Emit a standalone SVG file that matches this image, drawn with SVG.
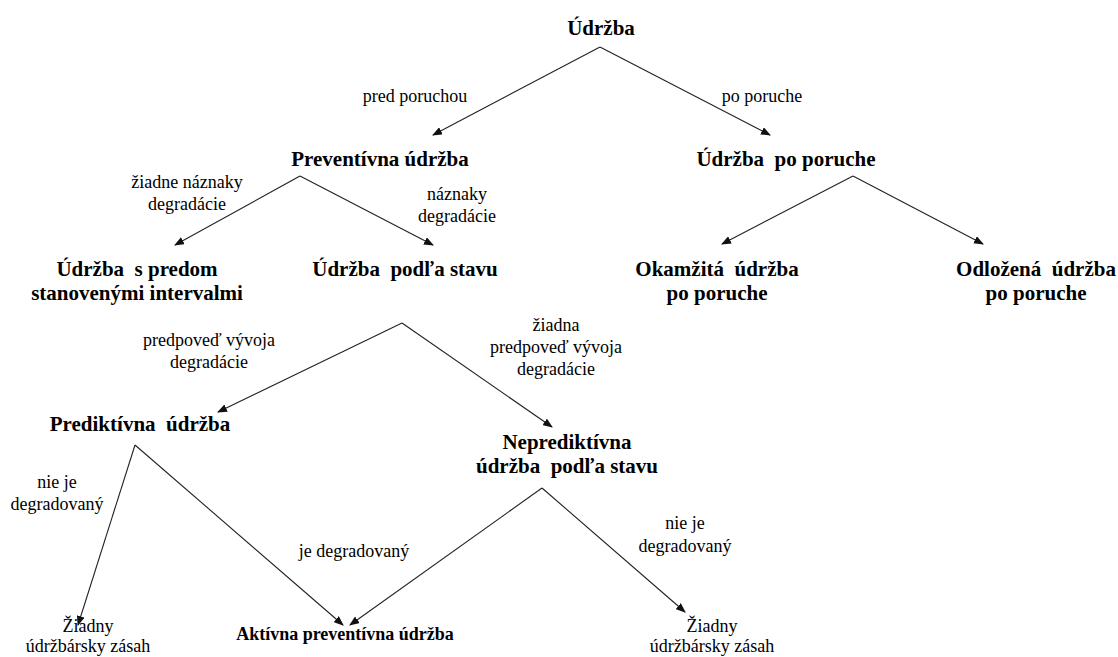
<svg xmlns="http://www.w3.org/2000/svg" width="1118" height="657" viewBox="0 0 1118 657">
<defs>
<marker id="ah" markerWidth="10" markerHeight="8" refX="9" refY="4" orient="auto" markerUnits="userSpaceOnUse">
<path d="M0,0 L10,4 L0,8 z" fill="#111"/>
</marker>
<style>
.n{font-family:"Liberation Serif","Times New Roman",serif;font-weight:bold;font-size:21px;fill:#000;text-anchor:middle}
.l{font-family:"Liberation Serif","Times New Roman",serif;font-size:18px;fill:#000;text-anchor:middle}
.c{stroke:#222;stroke-width:1.1;fill:none;marker-end:url(#ah)}
</style>
</defs>
<rect width="1118" height="657" fill="#fff"/>
<g id="connectors">
<path class="c" d="M600,47 L433,135"/>
<path class="c" d="M600,47 L770,135"/>
<path class="c" d="M300,176 L175,245"/>
<path class="c" d="M300,176 L433,245"/>
<path class="c" d="M853,176 L722,244"/>
<path class="c" d="M853,176 L983,244"/>
<path class="c" d="M402,323 L218,412"/>
<path class="c" d="M402,323 L552,427"/>
<path class="c" d="M135,445 L78,625"/>
<path class="c" d="M135,445 L343,625"/>
<path class="c" d="M542,488 L350,625"/>
<path class="c" d="M542,488 L685,612"/>
</g>
<g id="edge-labels">
<text class="l" x="415" y="102">pred poruchou</text>
<text class="l" x="762" y="102">po poruche</text>
<text class="l" x="187" y="188">žiadne náznaky</text>
<text class="l" x="187" y="210">degradácie</text>
<text class="l" x="457" y="200">náznaky</text>
<text class="l" x="457" y="222">degradácie</text>
<text class="l" x="209" y="346">predpoveď vývoja</text>
<text class="l" x="209" y="368">degradácie</text>
<text class="l" x="556" y="331">žiadna</text>
<text class="l" x="556" y="353">predpoveď vývoja</text>
<text class="l" x="556" y="375">degradácie</text>
<text class="l" x="57" y="488">nie je</text>
<text class="l" x="57" y="510">degradovaný</text>
<text class="l" x="354" y="557">je degradovaný</text>
<text class="l" x="685" y="529">nie je</text>
<text class="l" x="685" y="552">degradovaný</text>
</g>
<g id="n-udrzba"><text class="n" x="601" y="35">Údržba</text></g>
<g id="n-preventivna"><text class="n" x="380" y="166">Preventívna údržba</text></g>
<g id="n-po-poruche"><text class="n" x="786" y="166" xml:space="preserve">Údržba  po poruche</text></g>
<g id="n-intervaly"><text class="n" x="137" y="276" xml:space="preserve">Údržba  s predom</text><text class="n" x="137" y="300">stanovenými intervalmi</text></g>
<g id="n-podla-stavu"><text class="n" x="405" y="276" xml:space="preserve">Údržba  podľa stavu</text></g>
<g id="n-okamzita"><text class="n" x="717" y="276" xml:space="preserve">Okamžitá  údržba</text><text class="n" x="717" y="300">po poruche</text></g>
<g id="n-odlozena"><text class="n" x="1036" y="276" xml:space="preserve">Odložená  údržba</text><text class="n" x="1036" y="300">po poruche</text></g>
<g id="n-prediktivna"><text class="n" x="140" y="431" xml:space="preserve">Prediktívna  údržba</text></g>
<g id="n-neprediktivna"><text class="n" x="567" y="449">Neprediktívna</text><text class="n" x="567" y="473" xml:space="preserve">údržba  podľa stavu</text></g>
<g id="n-ziadny1"><text class="l" x="88" y="632">Žiadny</text><text class="l" x="88" y="652">údržbársky zásah</text></g>
<g id="n-aktivna"><text class="n" x="345" y="640" style="font-size:18px">Aktívna preventívna údržba</text></g>
<g id="n-ziadny2"><text class="l" x="712" y="632">Žiadny</text><text class="l" x="712" y="652">údržbársky zásah</text></g>
</svg>
